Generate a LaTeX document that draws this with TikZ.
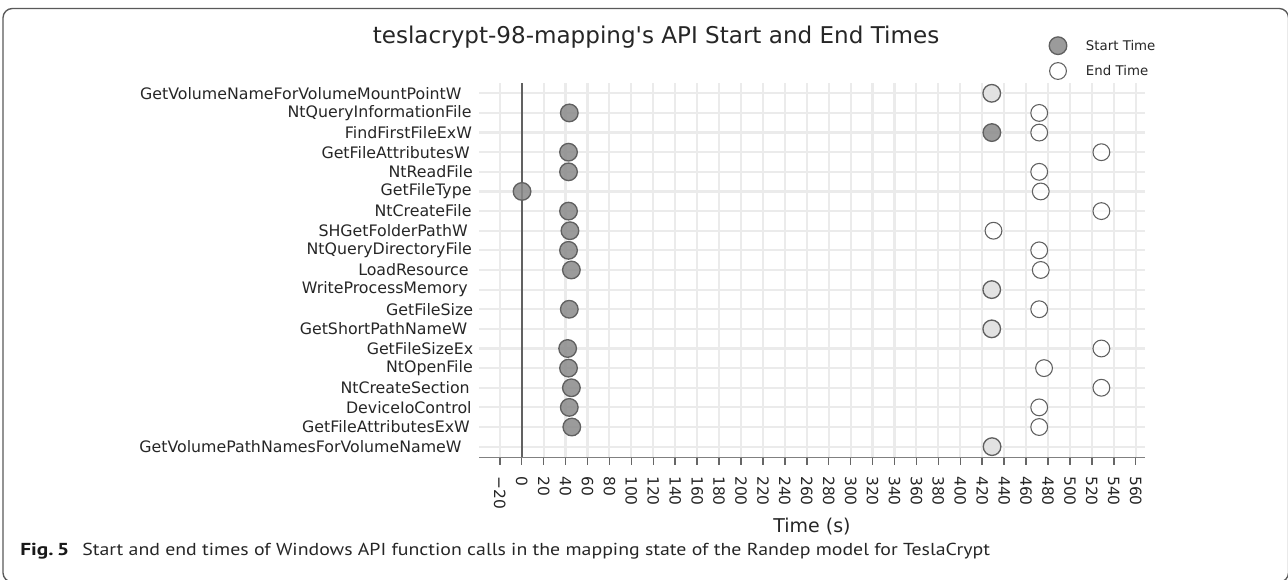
\documentclass[tikz,border=0pt]{standalone}
\usepackage{fontspec}
\usepackage{graphicx}
\setmainfont{DejaVu Sans}
\newfontfamily\dv{DejaVu Sans}
\newfontfamily\capfont{PT Sans}
\definecolor{gridc}{HTML}{EBEBEB}
\definecolor{txtc}{HTML}{262626}
\definecolor{startc}{HTML}{8A8A8A}
\definecolor{lightc}{HTML}{E2E2E2}
\definecolor{edgec}{HTML}{606060}
\tikzset{
  gridline/.style={draw=gridc, line width=1.6pt},
  zeroline/.style={draw=black!62, line width=1.5pt},
  axisline/.style={draw=black!50, line width=0.9pt},
  tickmark/.style={draw=black!60, line width=1.1pt},
  ticklab/.style={rotate=-90, anchor=west, inner sep=0pt, font=\dv\fontsize{11.6pt}{13pt}\selectfont, text=txtc},
  rowlab/.style={anchor=east, inner sep=0pt, font=\dv\fontsize{11.85pt}{13pt}\selectfont, text=txtc},
  startmark/.style={circle, draw=edgec, line width=1pt, fill=startc, fill opacity=0.85, minimum size=13.2pt, inner sep=0pt},
  lightmark/.style={circle, draw=edgec, line width=1pt, fill=lightc, minimum size=13.2pt, inner sep=0pt},
  endmark/.style={circle, draw=edgec, line width=0.8pt, fill=white, fill opacity=0.6, minimum size=12.6pt, inner sep=0pt},
}
\begin{document}
\begin{tikzpicture}[x=0.75pt,y=-0.75pt]
\useasboundingbox (0,0) rectangle (1288,579);
% frame
\draw[black!65, line width=1pt, rounded corners=7pt] (3,8.5) rectangle (1288.5,582);
% title
\node[anchor=base, inner sep=0pt, font=\dv\fontsize{17.3pt}{20pt}\selectfont, text=txtc] (title) at (656,43.3) {teslacrypt-98-mapping's API Start and End Times};
% legend
\node[startmark] (lgs) at (1058,45.7) {};
\node[endmark, fill opacity=1] (lge) at (1058,71) {};
\node[anchor=west, inner sep=0pt, font=\dv\fontsize{10pt}{12pt}\selectfont, text=txtc] (lgst) at (1085.7,45.7) {Start Time};
\node[anchor=west, inner sep=0pt, font=\dv\fontsize{10pt}{12pt}\selectfont, text=txtc] (lget) at (1085.7,71) {End Time};
% vertical grid lines
\foreach \t in {-20,0,...,560} {
  \draw[gridline] ({521.7+1.0964*\t},83.3) -- ({521.7+1.0964*\t},457.7);
}
% horizontal grid lines
\foreach \i in {1,...,19} {
  \pgfmathsetmacro\yy{93.3+(\i-1)*19.63}
  \draw[gridline] (479,\yy) -- (1145,\yy);
}
% zero line and axis
\draw[zeroline] (521.7,83.3) -- (521.7,457.7);
\draw[axisline] (479,457.7) -- (1145,457.7);
% ticks
\foreach \t in {-20,0,...,560} {
  \draw[tickmark] ({521.7+1.0964*\t},457.7) -- ({521.7+1.0964*\t},464.5);
}
\node[ticklab] (tkm20) at ({521.7-1.0964*20},476) {−20};
\foreach \t in {0,20,...,560} {
  \node[ticklab] (tk\t) at ({521.7+1.0964*\t},476) {\t};
}
\node[inner sep=0pt, font=\dv\fontsize{14.25pt}{16pt}\selectfont, text=txtc] (xtitle) at (812,527) {Time (s)};
% row labels
\foreach \name/\xe [count=\i] in {
  GetVolumeNameForVolumeMountPointW/461.8,
  NtQueryInformationFile/471.8,
  FindFirstFileExW/472.2,
  GetFileAttributesW/470,
  NtReadFile/473,
  GetFileType/471.8,
  NtCreateFile/471.8,
  SHGetFolderPathW/468,
  NtQueryDirectoryFile/472.2,
  LoadResource/468.9,
  WriteProcessMemory/468,
  GetFileSize/473.4,
  GetShortPathNameW/467.6,
  GetFileSizeEx/473.4,
  NtOpenFile/473,
  NtCreateSection/470,
  DeviceIoControl/471.8,
  GetFileAttributesExW/470,
  GetVolumePathNamesForVolumeNameW/461.8} {
  \pgfmathsetmacro\yy{93.3+(\i-1)*19.63}
  \node[rowlab] (lab\i) at (\xe,\yy) {\name};
}
% start markers
\foreach \i/\s in {2/43.4,3/428.8,4/42.7,5/42.7,6/0.3,7/42.7,8/44,9/42.7,10/45.3,12/43.4,14/41.9,15/42.7,16/45.3,17/43.4,18/45.7} {
  \pgfmathsetmacro\yy{93.3+(\i-1)*19.63}
  \node[startmark] (s\i) at ({521.7+1.0964*\s},\yy) {};
}
% end markers
\foreach \i/\e in {2/472,3/472,4/528.7,5/472,6/473.4,7/528.7,8/430.3,9/472,10/473.4,12/472,14/528.7,15/476.4,16/528.7,17/472,18/472} {
  \pgfmathsetmacro\yy{93.3+(\i-1)*19.63}
  \node[endmark] (e\i) at ({521.7+1.0964*\e},\yy) {};
}
% coinciding start/end markers
\foreach \i/\s in {1/428.7,11/428.7,13/428.7,19/429} {
  \pgfmathsetmacro\yy{93.3+(\i-1)*19.63}
  \node[lightmark] (c\i) at ({521.7+1.0964*\s},\yy) {};
}
% caption
\node[anchor=base west, inner sep=0pt, font=\capfont\bfseries\fontsize{13pt}{15pt}\selectfont, text=black!90] (figlab) at (20,555) {\resizebox{36.8pt}{\height}{Fig.\,5}};
\node[anchor=base west, inner sep=0pt, font=\capfont\fontsize{13pt}{15pt}\selectfont, text=black!85] (cap) at (82,555) {\resizebox{680.8pt}{\height}{Start and end times of Windows API function calls in the mapping state of the Randep model for TeslaCrypt}};
\end{tikzpicture}
\end{document}
